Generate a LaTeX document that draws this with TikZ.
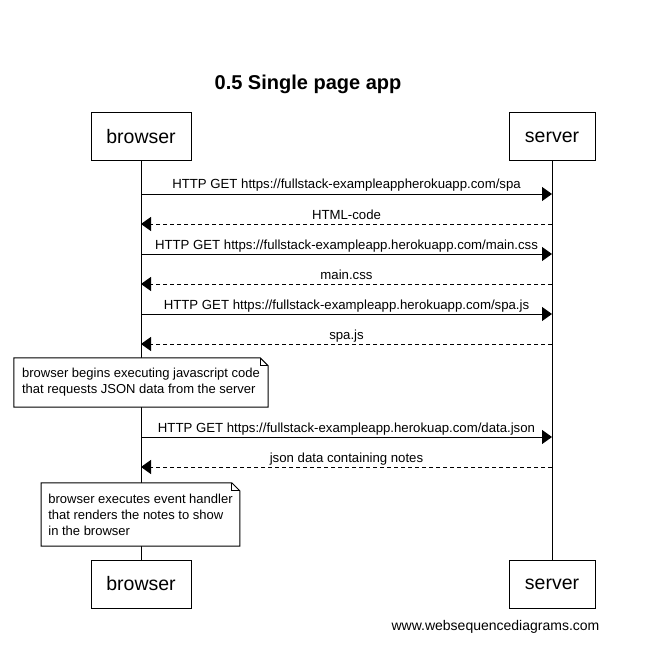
\documentclass[tikz,border=0pt]{standalone}
\usepackage{fontspec}
\setmainfont{Liberation Sans}
\usetikzlibrary{arrows.meta, backgrounds}

\begin{document}
\begin{tikzpicture}[x=1pt, y=-1pt]
		\tikzstyle{Actor} = [rectangle, draw=black, fill=white, line width=1pt, minimum height=48pt, font=\fontsize{19.5}{22}\selectfont]
		\tikzstyle{call} = [line width=1pt, -{Triangle[length=10pt, width=14pt]}]
		\tikzstyle{reply} = [call, dash pattern=on 4pt off 3pt]
		\tikzstyle{msgtext} = [midway, above, inner sep=0pt, text height=9.5pt, text depth=4.5pt, font=\fontsize{13.2}{16}\selectfont]
		\tikzstyle{Note} = [rectangle, align=left, inner xsep=7pt, font=\fontsize{13}{16}\selectfont]
		
		\useasboundingbox (0,0) rectangle (670,671);
		
		\node (title) at (308,84) {\fontsize{20}{24}\selectfont\bfseries 0.5 Single page app};
		
		\node (b1) [Actor, minimum width=100pt] at (141,137) {browser};
		\node (s1) [Actor, minimum width=86pt] at (552,137) {server};
		\node (b2) [Actor, minimum width=100pt] at (141,584) {browser};
		\node (s2) [Actor, minimum width=86pt] at (552,584) {server};
		
		\foreach \n/\y in {1/194, 2/224, 3/254, 4/284, 5/314, 6/344, 7/437, 8/467} {
			\coordinate (bl\n) at (141,\y);
			\coordinate (sv\n) at (552,\y);
		}
		
		\draw [call] (bl1) -- node [msgtext] {HTTP GET https://fullstack-exampleappherokuapp.com/spa} (sv1);
		\draw [reply] (sv2) -- node [msgtext] {HTML-code} (bl2);
		\draw [call] (bl3) -- node [msgtext] {HTTP GET https://fullstack-exampleapp.herokuapp.com/main.css} (sv3);
		\draw [reply] (sv4) -- node [msgtext] {main.css} (bl4);
		\draw [call] (bl5) -- node [msgtext] {HTTP GET https://fullstack-exampleapp.herokuapp.com/spa.js} (sv5);
		\draw [reply] (sv6) -- node [msgtext] {spa.js} (bl6);
		\draw [call] (bl7) -- node [msgtext] {HTTP GET https://fullstack-exampleapp.herokuap.com/data.json} (sv7);
		\draw [reply] (sv8) -- node [msgtext] {json data containing notes} (bl8);
		
		\node (n1) [Note, minimum width=254pt, minimum height=49pt] at (141,382.5) {browser begins executing javascript code\\that requests JSON data from the server};
		\node (n2) [Note, minimum width=197pt, minimum height=63pt] at (140.5,514.5) {browser executes event handler\\that renders the notes to show\\in the browser};
		
		\node (site) at (495.5,627) {\fontsize{14}{16}\selectfont www.websequencediagrams.com};
		
		% white page, lifelines, then the notes (folded corner) over them
		\begin{pgfonlayer}{background}
			\fill [white] (0,0) rectangle (670,671);
			\draw [line width=1pt] (b1.south) -- (b2.north);
			\draw [line width=1pt] (s1.south) -- (s2.north);
			\foreach \m in {n1, n2} {
				\draw [line width=1pt, fill=white] (\m.north west) -- ([xshift=-8pt]\m.north east) -- ([yshift=-8pt]\m.north east) -- (\m.south east) -- (\m.south west) -- cycle;
				\draw [line width=1pt] ([xshift=-8pt]\m.north east) |- ([yshift=-8pt]\m.north east);
			}
		\end{pgfonlayer}
\end{tikzpicture}
\end{document}
